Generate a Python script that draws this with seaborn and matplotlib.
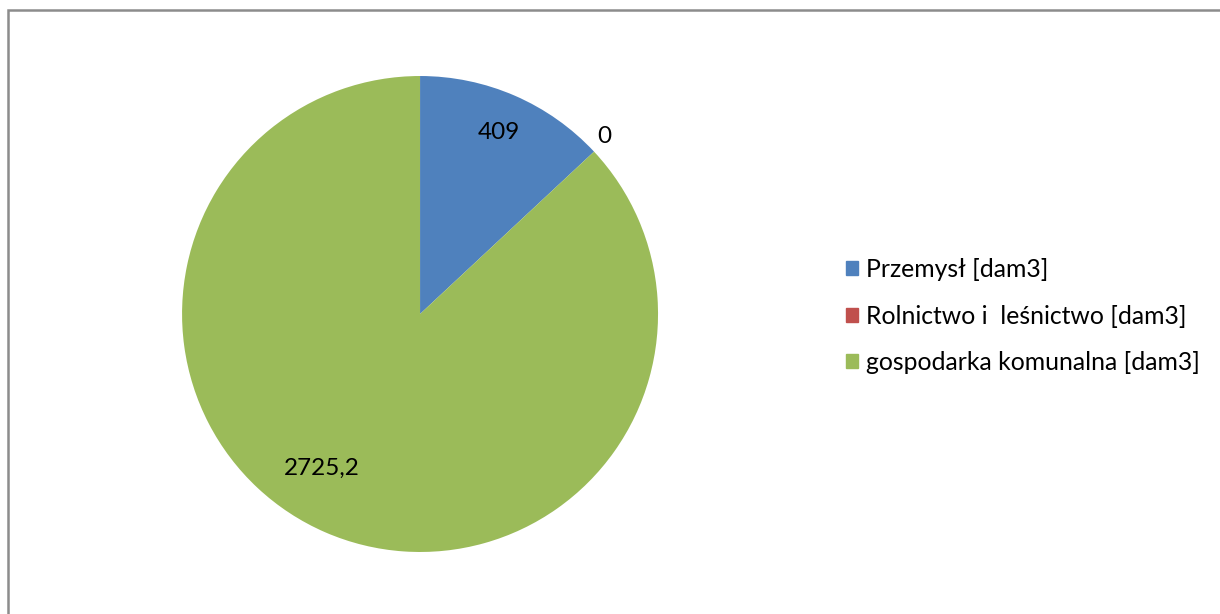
import numpy as np
import matplotlib
matplotlib.use("Agg")
import matplotlib.pyplot as plt
import matplotlib.patches as mpatches
import seaborn as sns

categories = ["Przemysł [dam3]", "Rolnictwo i  leśnictwo [dam3]", "gospodarka komunalna [dam3]"]
values = [409, 0, 2725.2]
value_labels = ["409", "0", "2725,2"]

sns.set_theme(style="white")
plt.rcParams['font.family'] = ['Lato', 'DejaVu Sans']

colors = ["#4F81BD", "#C0504D", "#9BBB59"]

fig = plt.figure(figsize=(12.2, 6.14), dpi=100)
ax = fig.add_axes([0.1492, 0.1010, 0.3902, 0.7752])
wedges, _ = ax.pie(values, colors=colors, startangle=90, counterclock=False,
                   radius=1.0, wedgeprops=dict(linewidth=0))
ax.set_xlim(-1, 1)
ax.set_ylim(-1, 1)
ax.set_aspect("equal")
ax.axis("off")

# label placement: (radius fraction, angle offset from wedge mid-angle)
placement = [(0.83, 0.0), (1.075, 0.8), (0.77, -9.0)]
for w, lab, (r, off) in zip(wedges, value_labels, placement):
    mid = (w.theta1 + w.theta2) / 2 + off
    x = r * np.cos(np.deg2rad(mid))
    y = r * np.sin(np.deg2rad(mid))
    ax.text(x, y, lab, ha="center", va="center", fontsize=17.5, color="black", clip_on=False)

handles = [mpatches.Patch(color=c) for c in colors]
leg = fig.legend(handles, categories, loc="center left", bbox_to_anchor=(0.6934, 0.4853),
                 frameon=False, fontsize=17.8, handlelength=0.49, handleheight=0.49,
                 handletextpad=0.32, labelspacing=0.95, borderaxespad=0, borderpad=0)
for t in leg.get_texts():
    t.set_color("black")

border = mpatches.Rectangle((8 / 1220, -0.2), 1.2, 1.2 - 10 / 614, transform=fig.transFigure,
                            fill=False, edgecolor="#8C8C8C", linewidth=1.8, clip_on=False)
fig.patches.append(border)

fig.savefig("out.png", dpi=100)
